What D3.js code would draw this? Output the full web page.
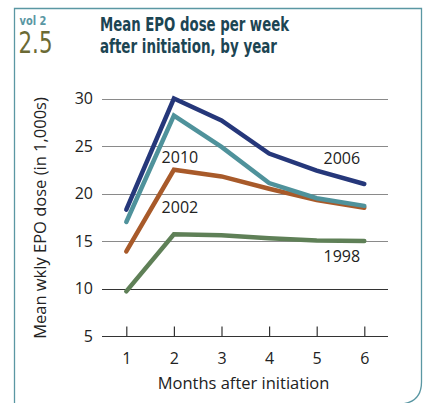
<!DOCTYPE html>
<html>
<head>
<meta charset="utf-8">
<script src="https://cdn.jsdelivr.net/npm/d3@7"></script>
<style>
  body { margin: 0; background: #fff; }
  svg { display: block; }
</style>
</head>
<body>
<svg id="chart" width="425" height="403"></svg>
<script>
// months on the x axis
const months = [1, 2, 3, 4, 5, 6];
// mean weekly EPO dose (in 1,000s)
const dose2006 = [18.3, 30.0, 27.7, 24.2, 22.4, 21.0];
const dose2010 = [17.0, 28.2, 24.9, 21.1, 19.5, 18.7];
const dose2002 = [13.9, 22.5, 21.8, 20.5, 19.3, 18.5];
const dose1998 = [9.7, 15.7, 15.6, 15.3, 15.05, 15.0];
const yTicks = [5, 10, 15, 20, 25, 30];

const series = [
    { name: '1998', values: dose1998, color: '#5f8057', labelAt: 6, dy: 21 },
    { name: '2002', values: dose2002, color: '#a85a2a', labelAt: 2, dy: 43.5 },
    { name: '2010', values: dose2010, color: '#4f929b', labelAt: 2, dy: 47.5 },
    { name: '2006', values: dose2006, color: '#25377a', labelAt: 6, dy: -20 }
];

const svg = d3.select('#chart');
const font = '"Open Sans", "Noto Sans", sans-serif';
const narrow = '"DejaVu Sans Condensed", "Liberation Sans Narrow", sans-serif';

// frame with rounded bottom-right corner
svg.append('path')
    .attr('d', 'M14.5,404 L14.5,8.5 L421.5,8.5 L421.5,382 Q421.5,402 401.5,404')
    .attr('fill', 'none')
    .attr('stroke', '#5a97a3')
    .attr('stroke-width', 1.3);

// header
svg.append('text').attr('x', 19.5).attr('y', 25)
    .attr('font-family', narrow)
    .attr('font-weight', 'bold').attr('font-size', 13)
    .attr('textLength', 27).attr('lengthAdjust', 'spacingAndGlyphs')
    .attr('fill', '#5a97a3').text('vol 2');
svg.append('text').attr('x', 18.5).attr('y', 52.5)
    .attr('font-family', narrow)
    .attr('font-size', 31)
    .attr('textLength', 34).attr('lengthAdjust', 'spacingAndGlyphs')
    .attr('fill', '#6b6a35').text('2.5');
const title = svg.append('text')
    .attr('font-family', narrow)
    .attr('font-weight', 'bold').attr('font-size', 19)
    .attr('lengthAdjust', 'spacingAndGlyphs')
    .attr('fill', '#1c4553');
title.append('tspan').attr('x', 100).attr('y', 30.5)
    .attr('textLength', 189).attr('lengthAdjust', 'spacingAndGlyphs')
    .text('Mean EPO dose per week');
title.append('tspan').attr('x', 100).attr('y', 53)
    .attr('textLength', 177).attr('lengthAdjust', 'spacingAndGlyphs')
    .text('after initiation, by year');

// scales
const x = d3.scaleLinear().domain([1, 6]).range([126.3, 364.3]);
const y = d3.scaleLinear().domain([5, 30]).range([336, 98.5]);

// horizontal grid
svg.append('g')
    .selectAll('line')
    .data(yTicks)
    .join('line')
    .attr('x1', 102).attr('x2', 388)
    .attr('y1', d => Math.round(y(d)) + 0.5)
    .attr('y2', d => Math.round(y(d)) + 0.5)
    .attr('stroke', d => (d === 10 || d === 5) ? '#333' : '#8a8a8a')
    .attr('stroke-width', 1.2);

// y axis labels
svg.append('g')
    .selectAll('text')
    .data(yTicks)
    .join('text')
    .attr('x', 93)
    .attr('y', d => y(d) + 5.5)
    .attr('text-anchor', 'end')
    .attr('font-family', font).attr('font-size', 16)
    .attr('fill', '#222')
    .text(d => d);

// x axis ticks and labels
const xAxis = svg.append('g')
    .attr('transform', `translate(0,${Math.round(y(5)) + 0.5})`)
    .call(d3.axisBottom(x).tickValues(months).tickSize(-10).tickPadding(16).tickFormat(d3.format('d')));
xAxis.select('.domain').remove();
xAxis.selectAll('.tick line').attr('stroke', '#333').attr('stroke-width', 1.2);
xAxis.selectAll('.tick text')
    .attr('font-family', font).attr('font-size', 16).attr('fill', '#222');

// axis titles
svg.append('text')
    .attr('x', 243.5).attr('y', 389)
    .attr('text-anchor', 'middle')
    .attr('font-family', font).attr('font-size', 16.5).attr('fill', '#222')
    .text('Months after initiation');
svg.append('text')
    .attr('transform', 'translate(46,218) rotate(-90)')
    .attr('text-anchor', 'middle')
    .attr('font-family', font).attr('font-size', 16.5).attr('fill', '#222')
    .text('Mean wkly EPO dose (in 1,000s)');

// lines
const line = d3.line()
    .x((d, i) => x(months[i]))
    .y(d => y(d));

svg.append('g')
    .selectAll('path')
    .data(series)
    .join('path')
    .attr('d', d => line(d.values))
    .attr('fill', 'none')
    .attr('stroke', d => d.color)
    .attr('stroke-width', 4.5)
    .attr('stroke-linejoin', 'miter')
    .attr('stroke-linecap', 'round');

// series labels
svg.append('g')
    .selectAll('text')
    .data(series)
    .join('text')
    .attr('x', d => x(d.labelAt) - (d.labelAt === 6 ? 22.5 : -6))
    .attr('y', d => y(d.values[d.labelAt - 1]) + d.dy)
    .attr('text-anchor', 'middle')
    .attr('font-family', font).attr('font-size', 16)
    .attr('fill', '#222')
    .text(d => d.name);
</script>
</body>
</html>
